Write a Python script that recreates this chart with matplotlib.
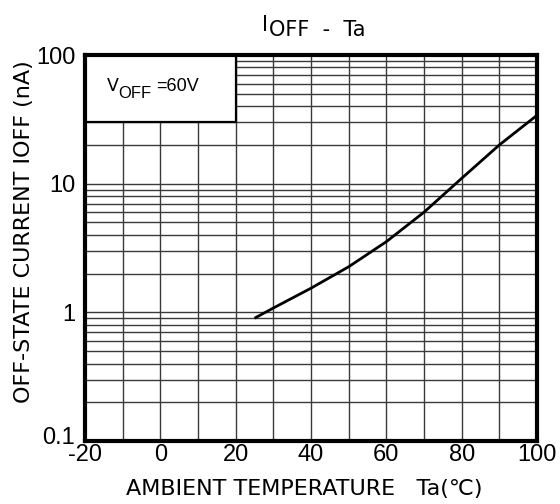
import matplotlib
matplotlib.use("Agg")
import matplotlib.pyplot as plt
import matplotlib.transforms as mtransforms
from matplotlib.patches import Rectangle

# data
temp_c = [25, 30, 40, 50, 60, 70, 80, 90, 100]
ioff_na = [0.9, 1.08, 1.54, 2.26, 3.54, 6.0, 11.0, 20.0, 34.0]
x_ticks = [-20, 0, 20, 40, 60, 80, 100]
y_ticks = [0.1, 1, 10, 100]
y_tick_labels = ["0.1", "1", "10", "100"]

plt.rcParams['font.family'] = ['Liberation Sans', 'DejaVu Sans']

fig = plt.figure(figsize=(5.6, 5.04), dpi=100)
ax = fig.add_axes([85/560, 63/504, 452/560, 386/504])
ax.set_yscale('log')
ax.set_xlim(-20, 100)
ax.set_ylim(0.1, 100)

gcol = '#3a3a3a'
for xv in range(-10, 100, 10):
    ax.axvline(xv, color=gcol, lw=1.0, zorder=1)
for dec in [0.1, 1, 10]:
    for m in range(1, 10):
        v = dec * m
        if 0.1 < v < 100:
            ax.axhline(v, color=gcol, lw=1.0, zorder=1)

# condition box
ax.add_patch(Rectangle((-20, 30), 40, 70, facecolor='white', edgecolor='black',
                       lw=1.6, zorder=3))
ax.text(-14.3, 57, "V", fontsize=12.5, va='center', ha='left', zorder=4,
        family=['DejaVu Sans'])
ax.text(-11.2, 50.5, "OFF", fontsize=12, va='center', ha='left', zorder=4)
ax.text(-1.0, 57, "=60V", fontsize=13, va='center', ha='left', zorder=4)

ax.plot(temp_c, ioff_na, color='black', lw=2.0, zorder=5, solid_capstyle='butt')

ax.set_xticks(x_ticks)
ax.set_xticklabels([str(t) for t in x_ticks], fontsize=17)
ax.set_yticks(y_ticks)
ax.set_yticklabels(y_tick_labels, fontsize=17)
ax.yaxis.set_minor_locator(matplotlib.ticker.NullLocator())
ax.tick_params(axis='both', length=0)
ax.tick_params(axis='x', pad=2)
ax.tick_params(axis='y', pad=7)

# lift the 0.1 label a little, as in the reference
lbl = ax.get_yticklabels()[0]
lbl.set_transform(lbl.get_transform() +
                  mtransforms.ScaledTranslation(0, 6/100, fig.dpi_scale_trans))

for s in ax.spines.values():
    s.set_linewidth(3.0)
    s.set_zorder(6)

fig.text(24/560, 1 - 232/504, "OFF-STATE CURRENT IOFF (nA)", rotation=90,
         ha='center', va='center', fontsize=16, family=['DejaVu Sans'])
fig.text(304/560, 1 - 489/504, "AMBIENT TEMPERATURE   Ta(\u2103)",
         ha='center', va='center', fontsize=16, family=['DejaVu Sans'])
fig.text(262/560, 1 - 25/504, "I", ha='left', va='center', fontsize=15,
         family=['DejaVu Sans'])
fig.text(269/560, 1 - 30/504, "OFF  -  Ta", ha='left', va='center', fontsize=15,
         family=['DejaVu Sans'])

fig.savefig("out.png", dpi=100)
